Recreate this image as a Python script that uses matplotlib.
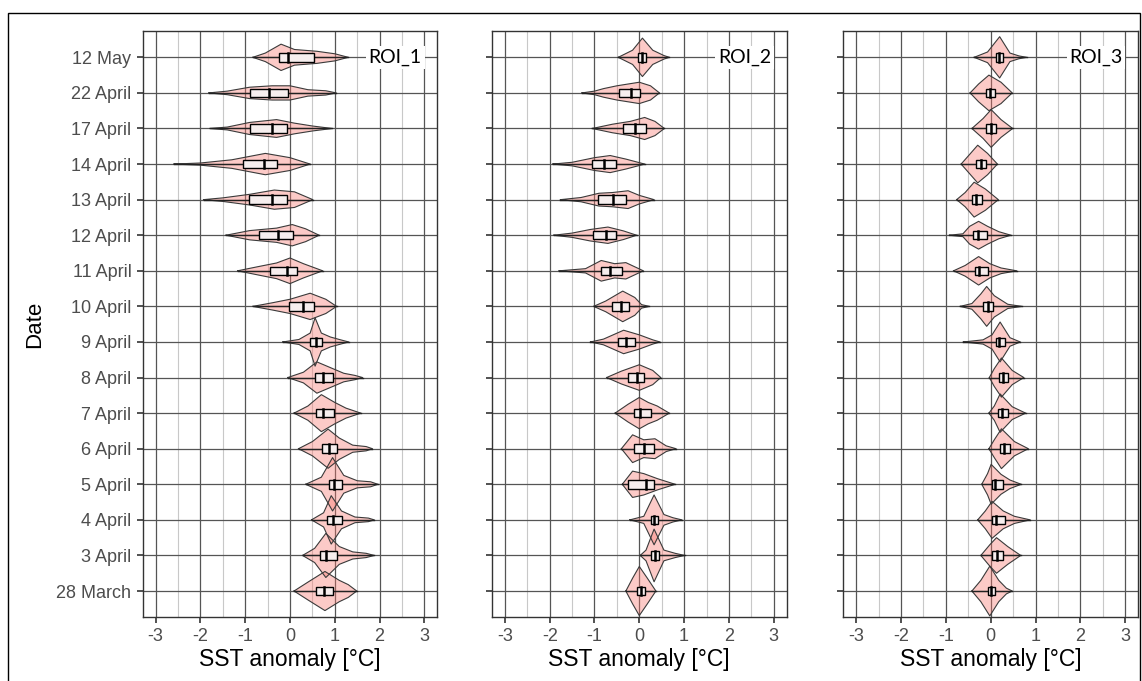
import numpy as np
import matplotlib
matplotlib.use("Agg")
import matplotlib.pyplot as plt
from matplotlib.patches import Rectangle

plt.rcParams['font.family'] = ['Liberation Sans', 'DejaVu Sans']
plt.rcParams['axes.unicode_minus'] = False

dates = ['28 March', '3 April', '4 April', '5 April', '6 April', '7 April', '8 April',
         '9 April', '10 April', '11 April', '12 April', '13 April', '14 April',
         '17 April', '22 April', '12 May']
rois = ['ROI_1', 'ROI_2', 'ROI_3']

# violin outlines: (SST anomaly, half width in rows), bottom row first
roi1_shape = [
    [(0.09, 0), (0.4, 0.25), (0.78, 0.55), (1.1, 0.3), (1.3, 0.18), (1.49, 0)],
    [(0.28, 0), (0.55, 0.2), (0.8, 0.62), (1.1, 0.25), (1.4, 0.1), (1.7, 0.06), (1.88, 0)],
    [(0.48, 0), (0.75, 0.2), (0.92, 0.68), (1.15, 0.25), (1.45, 0.08), (1.75, 0.05), (1.88, 0)],
    [(0.35, 0), (0.7, 0.2), (0.95, 0.75), (1.2, 0.25), (1.5, 0.1), (1.8, 0.07), (1.96, 0)],
    [(0.19, 0), (0.5, 0.2), (0.85, 0.55), (1.1, 0.3), (1.4, 0.1), (1.7, 0.06), (1.84, 0)],
    [(0.09, 0), (0.4, 0.2), (0.7, 0.52), (1.0, 0.3), (1.25, 0.14), (1.58, 0)],
    [(-0.05, 0), (0.3, 0.15), (0.6, 0.44), (0.9, 0.28), (1.2, 0.12), (1.45, 0.06), (1.62, 0)],
    [(-0.16, 0), (0.2, 0.07), (0.45, 0.25), (0.56, 0.68), (0.7, 0.25), (0.9, 0.14), (1.1, 0.07), (1.31, 0)],
    [(-0.83, 0), (-0.4, 0.1), (0.0, 0.2), (0.45, 0.37), (0.8, 0.2), (1.04, 0)],
    [(-1.17, 0), (-0.7, 0.12), (-0.3, 0.22), (0.0, 0.36), (0.3, 0.2), (0.73, 0)],
    [(-1.43, 0), (-0.9, 0.13), (-0.3, 0.2), (0.05, 0.3), (0.35, 0.18), (0.65, 0)],
    [(-1.93, 0), (-1.5, 0.05), (-0.9, 0.15), (-0.35, 0.27), (0.1, 0.22), (0.51, 0)],
    [(-2.59, 0), (-2.0, 0.03), (-1.3, 0.12), (-0.55, 0.3), (0.0, 0.18), (0.45, 0)],
    [(-1.79, 0), (-1.4, 0.04), (-0.9, 0.17), (-0.3, 0.25), (0.1, 0.15), (0.5, 0.07), (0.94, 0)],
    [(-1.81, 0), (-1.4, 0.05), (-0.9, 0.16), (-0.4, 0.2), (0.0, 0.2), (0.4, 0.09), (0.8, 0.06), (1.03, 0)],
    [(-0.83, 0), (-0.55, 0.12), (-0.2, 0.37), (0.1, 0.22), (0.6, 0.17), (1.0, 0.1), (1.3, 0)],
]
roi1_q1 = [0.57, 0.68, 0.83, 0.86, 0.71, 0.57, 0.55, 0.45, -0.02, -0.45, -0.70, -0.92, -1.06, -0.89, -0.89, -0.25]
roi1_med = [0.77, 0.81, 0.97, 0.98, 0.88, 0.73, 0.73, 0.58, 0.30, -0.07, -0.27, -0.41, -0.58, -0.41, -0.46, -0.04]
roi1_q3 = [0.96, 1.06, 1.15, 1.15, 1.06, 0.98, 0.96, 0.71, 0.53, 0.16, 0.07, -0.07, -0.28, -0.06, -0.04, 0.53]

roi2_shape = [
    [(-0.3, 0), (-0.15, 0.36), (0.0, 0.69), (0.18, 0.36), (0.37, 0)],
    [(0.02, 0), (0.15, 0.15), (0.33, 0.74), (0.55, 0.15), (0.8, 0.06), (1.01, 0)],
    [(-0.21, 0), (0.1, 0.1), (0.33, 0.7), (0.55, 0.15), (0.75, 0.06), (0.95, 0)],
    [(-0.38, 0), (-0.15, 0.37), (0.1, 0.3), (0.4, 0.16), (0.8, 0)],
    [(-0.4, 0), (-0.15, 0.39), (0.1, 0.25), (0.35, 0.28), (0.6, 0.08), (0.82, 0)],
    [(-0.54, 0), (-0.25, 0.25), (0.0, 0.44), (0.2, 0.3), (0.4, 0.2), (0.67, 0)],
    [(-0.73, 0), (-0.4, 0.18), (0.0, 0.36), (0.3, 0.2), (0.48, 0)],
    [(-1.09, 0), (-0.8, 0.08), (-0.35, 0.33), (0.0, 0.2), (0.3, 0.06), (0.46, 0)],
    [(-1.02, 0), (-0.75, 0.15), (-0.37, 0.43), (-0.1, 0.25), (0.05, 0.05), (0.22, 0)],
    [(-1.79, 0), (-1.2, 0.06), (-0.85, 0.29), (-0.55, 0.2), (-0.3, 0.23), (0.09, 0)],
    [(-1.91, 0), (-1.5, 0.06), (-1.1, 0.16), (-0.7, 0.23), (-0.35, 0.12), (-0.06, 0)],
    [(-1.76, 0), (-1.3, 0.06), (-0.9, 0.18), (-0.6, 0.2), (-0.25, 0.25), (0.0, 0.12), (0.33, 0)],
    [(-1.93, 0), (-1.5, 0.05), (-1.0, 0.18), (-0.65, 0.24), (-0.3, 0.14), (0.12, 0)],
    [(-1.05, 0), (-0.6, 0.12), (-0.2, 0.2), (0.12, 0.31), (0.35, 0.2), (0.56, 0)],
    [(-1.28, 0), (-1.0, 0.05), (-0.8, 0.12), (-0.5, 0.2), (0.0, 0.3), (0.25, 0.2), (0.45, 0)],
    [(-0.47, 0), (-0.15, 0.2), (0.07, 0.54), (0.3, 0.2), (0.55, 0.05), (0.67, 0)],
]
roi2_q1 = [-0.06, 0.26, 0.26, -0.25, -0.12, -0.12, -0.25, -0.48, -0.60, -0.85, -1.04, -0.93, -1.05, -0.36, -0.45, -0.04]
roi2_med = [0.03, 0.34, 0.32, 0.15, 0.10, 0.02, -0.06, -0.30, -0.40, -0.66, -0.75, -0.59, -0.78, -0.10, -0.19, 0.06]
roi2_q3 = [0.12, 0.43, 0.41, 0.33, 0.33, 0.26, 0.10, -0.10, -0.24, -0.39, -0.51, -0.29, -0.53, 0.16, 0.02, 0.16]

roi3_shape = [
    [(-0.42, 0), (-0.22, 0.3), (-0.02, 0.7), (0.18, 0.3), (0.35, 0.08), (0.48, 0)],
    [(-0.22, 0), (-0.02, 0.3), (0.13, 0.5), (0.38, 0.25), (0.67, 0)],
    [(-0.29, 0), (-0.12, 0.25), (0.03, 0.52), (0.28, 0.25), (0.53, 0.1), (0.88, 0)],
    [(-0.2, 0), (-0.07, 0.3), (0.01, 0.56), (0.23, 0.28), (0.43, 0.12), (0.68, 0)],
    [(-0.04, 0), (0.08, 0.25), (0.24, 0.56), (0.53, 0.2), (0.84, 0)],
    [(-0.04, 0), (0.08, 0.2), (0.21, 0.54), (0.48, 0.18), (0.78, 0)],
    [(-0.03, 0), (0.08, 0.25), (0.24, 0.55), (0.48, 0.2), (0.74, 0)],
    [(-0.61, 0), (-0.17, 0.06), (0.03, 0.2), (0.21, 0.56), (0.43, 0.12), (0.66, 0)],
    [(-0.68, 0), (-0.42, 0.08), (-0.22, 0.35), (-0.09, 0.56), (0.08, 0.3), (0.38, 0.06), (0.69, 0)],
    [(-0.83, 0), (-0.57, 0.15), (-0.27, 0.4), (-0.02, 0.2), (0.23, 0.08), (0.58, 0)],
    [(-0.92, 0), (-0.62, 0.04), (-0.47, 0.25), (-0.27, 0.39), (-0.07, 0.25), (0.18, 0.1), (0.45, 0)],
    [(-0.76, 0), (-0.57, 0.2), (-0.37, 0.49), (-0.12, 0.3), (0.17, 0)],
    [(-0.66, 0), (-0.52, 0.2), (-0.29, 0.53), (-0.07, 0.3), (0.15, 0)],
    [(-0.42, 0), (-0.17, 0.28), (0.01, 0.53), (0.23, 0.25), (0.49, 0)],
    [(-0.46, 0), (-0.27, 0.25), (-0.04, 0.5), (0.23, 0.3), (0.48, 0)],
    [(-0.37, 0), (-0.07, 0.15), (0.2, 0.58), (0.43, 0.12), (0.63, 0.04), (0.80, 0)],
]
roi3_q1 = [-0.07, 0.04, 0.02, 0.02, 0.21, 0.17, 0.19, 0.11, -0.17, -0.35, -0.40, -0.42, -0.33, -0.10, -0.11, 0.11]
roi3_med = [0.01, 0.14, 0.11, 0.10, 0.30, 0.26, 0.28, 0.19, -0.07, -0.26, -0.29, -0.33, -0.22, 0.01, -0.01, 0.19]
roi3_q3 = [0.10, 0.28, 0.31, 0.28, 0.42, 0.39, 0.39, 0.32, 0.05, -0.07, -0.09, -0.20, -0.11, 0.11, 0.09, 0.28]

panels = [
    (roi1_shape, roi1_q1, roi1_med, roi1_q3),
    (roi2_shape, roi2_q1, roi2_med, roi2_q3),
    (roi3_shape, roi3_q1, roi3_med, roi3_q3),
]

fig = plt.figure(figsize=(11.42, 6.81), dpi=100)
lefts = [142.6, 491.9, 843.3]

for k, (shape, q1, med, q3) in enumerate(panels):
    ax = fig.add_axes([lefts[k] / 1142, 64 / 681, 294.8 / 1142, 586 / 681])
    rows = np.arange(len(dates))
    for i in rows:
        xs = np.array([p[0] for p in shape[i]])
        ws = np.array([p[1] for p in shape[i]])
        ax.fill_between(xs, i - ws, i + ws, facecolor='#F8766D', alpha=0.38,
                        edgecolor='none', zorder=2)
        ax.plot(np.r_[xs, xs[::-1], xs[0]], np.r_[i - ws, (i + ws)[::-1], i],
                color='#3a3a3a', lw=0.8, zorder=3)
        ax.plot([xs[0], xs[-1]], [i, i], color='#222222', lw=1.0, zorder=3)
        ax.add_patch(Rectangle((q1[i], i - 0.12), q3[i] - q1[i], 0.24,
                               facecolor='#f6eeee', edgecolor='black', lw=1.0, zorder=4))
        ax.plot([med[i], med[i]], [i - 0.12, i + 0.12], color='black', lw=1.8, zorder=5)

    ax.set_xlim(-3.29, 3.29)
    ax.set_ylim(-0.73, 15.74)
    ax.set_xticks(range(-3, 4))
    ax.set_xticks(np.arange(-3, 3.5, 0.5), minor=True)
    ax.set_yticks(rows)
    ax.grid(which='major', color='#555555', lw=0.9, zorder=0)
    ax.grid(which='minor', axis='x', color='#c8c8c8', lw=0.8, zorder=0)
    ax.set_axisbelow(True)
    ax.tick_params(which='minor', length=0)
    ax.tick_params(which='major', length=4, width=1.2, color='#333333',
                   labelsize=13, labelcolor='#4d4d4d', pad=4)
    for sp in ax.spines.values():
        sp.set_color('#333333')
        sp.set_linewidth(1.0)
    if k == 0:
        ax.set_yticklabels(dates)
        ax.set_ylabel('Date', fontsize=16, labelpad=8)
    else:
        ax.set_yticklabels([])
    ax.set_xlabel('SST anomaly [°C]', fontsize=16.5, labelpad=2)
    ax.text(2.35, 15, rois[k], fontsize=14, family=['Lato', 'DejaVu Sans'],
            ha='center', va='center', zorder=6,
            bbox=dict(facecolor='white', edgecolor='none', pad=2))

fig.patches.append(Rectangle((8 / 1142, -0.02), 1132 / 1142, 1 - 13 / 681 + 0.02,
                             transform=fig.transFigure, fill=False,
                             edgecolor='black', lw=1.0))

plt.savefig('out.png', dpi=100)
